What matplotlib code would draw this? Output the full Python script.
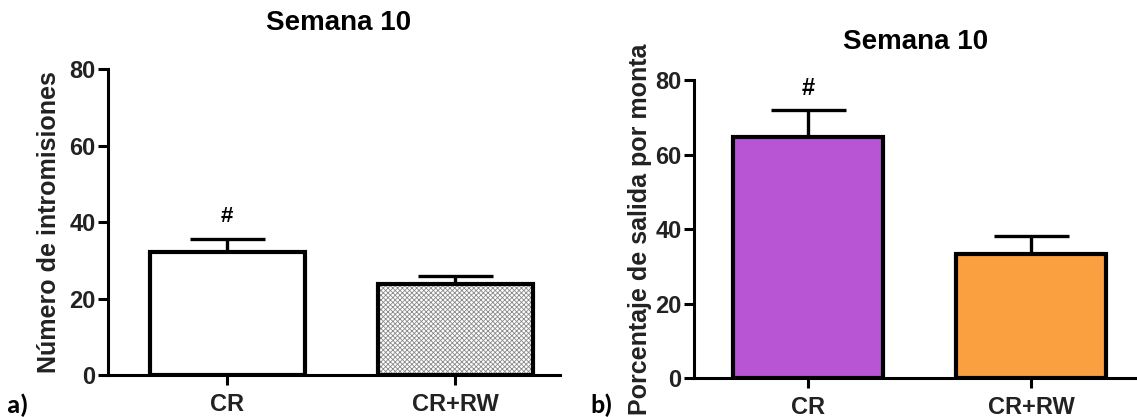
import numpy as np
import matplotlib
matplotlib.use("Agg")
import matplotlib.pyplot as plt

plt.rcParams['font.family'] = ['Liberation Sans', 'DejaVu Sans']
plt.rcParams['font.weight'] = 'bold'
plt.rcParams['hatch.linewidth'] = 0.6

groups = ["CR", "CR+RW"]
title = "Semana 10"

# panel a: number of intromissions
intro_mean = [32.2, 23.9]
intro_err = [3.4, 2.0]
# panel b: percentage of exit per mount
exit_mean = [64.7, 33.4]
exit_err = [7.2, 4.7]

yticks = [0, 20, 40, 60, 80]


def style_axis(ax, xlim):
    ax.set_xlim(*xlim)
    ax.set_ylim(0, 80)
    ax.set_yticks(yticks)
    ax.set_xticks(range(len(groups)))
    ax.set_xticklabels(groups)
    for s in ['top', 'right']:
        ax.spines[s].set_visible(False)
    for s in ['left', 'bottom']:
        ax.spines[s].set_linewidth(2.2)
    ax.tick_params(axis='both', width=2.2, length=7, labelsize=17)
    ax.tick_params(axis='x', pad=6)
    ax.tick_params(axis='y', pad=2)
    for lab in ax.get_xticklabels() + ax.get_yticklabels():
        lab.set_fontweight('bold')
        lab.set_color('#222222')


fig = plt.figure(figsize=(11.37, 4.17), dpi=100)

# ---- panel a
ax1 = fig.add_axes([0.095, 0.1007, 0.3975, 0.7338])
x = np.arange(len(groups))
w = 0.68
ax1.bar(x[0], intro_mean[0], w, color='white', edgecolor='black', linewidth=3, zorder=2)
# dotted grey fill for CR+RW
ax1.bar(x[1], intro_mean[1], w, color='white', edgecolor='#8a8a8a', hatch='xxxxxxx', linewidth=0, zorder=2)
ax1.bar(x[1], intro_mean[1], w, color='none', edgecolor='black', linewidth=3, zorder=3)
for xi, m, e in zip(x, intro_mean, intro_err):
    ax1.errorbar(xi, m, yerr=[[0], [e]], color='black', elinewidth=2.4, capsize=27, capthick=2.4, zorder=1)
ax1.text(x[0], intro_mean[0] + intro_err[0] + 5.9, "#", ha='center', va='center', fontsize=16, fontweight='bold')
style_axis(ax1, (-0.522, 1.46))
ax1.set_ylabel("Número de intromisiones", fontsize=18, fontweight='bold', color='#222222', labelpad=6)
ax1.set_title(title, fontsize=20, fontweight='bold', pad=28, x=0.51)

# ---- panel b
ax2 = fig.add_axes([0.6104, 0.0935, 0.3896, 0.7146])
w2 = 0.67
ax2.bar(x, exit_mean, w2, color=['#b855d5', '#fba040'], edgecolor='black', linewidth=3, zorder=2)
for xi, m, e in zip(x, exit_mean, exit_err):
    ax2.errorbar(xi, m, yerr=[[0], [e]], color='black', elinewidth=2.4, capsize=27, capthick=2.4, zorder=1)
ax2.text(x[0], exit_mean[0] + exit_err[0] + 5.9, "#", ha='center', va='center', fontsize=17, fontweight='bold')
style_axis(ax2, (-0.511, 1.475))
ax2.set_ylabel("Porcentaje de salida por monta", fontsize=18, fontweight='bold', color='#222222', labelpad=2)
ax2.set_title(title, fontsize=20, fontweight='bold', pad=22, x=0.5)

# panel letters
fig.text(0.006, 0.01, "a)", fontsize=19, fontweight='bold', family=['Carlito', 'Liberation Sans', 'DejaVu Sans'])
fig.text(0.519, 0.01, "b)", fontsize=19, fontweight='bold', family=['Carlito', 'Liberation Sans', 'DejaVu Sans'])

fig.savefig("out.png", dpi=100)
